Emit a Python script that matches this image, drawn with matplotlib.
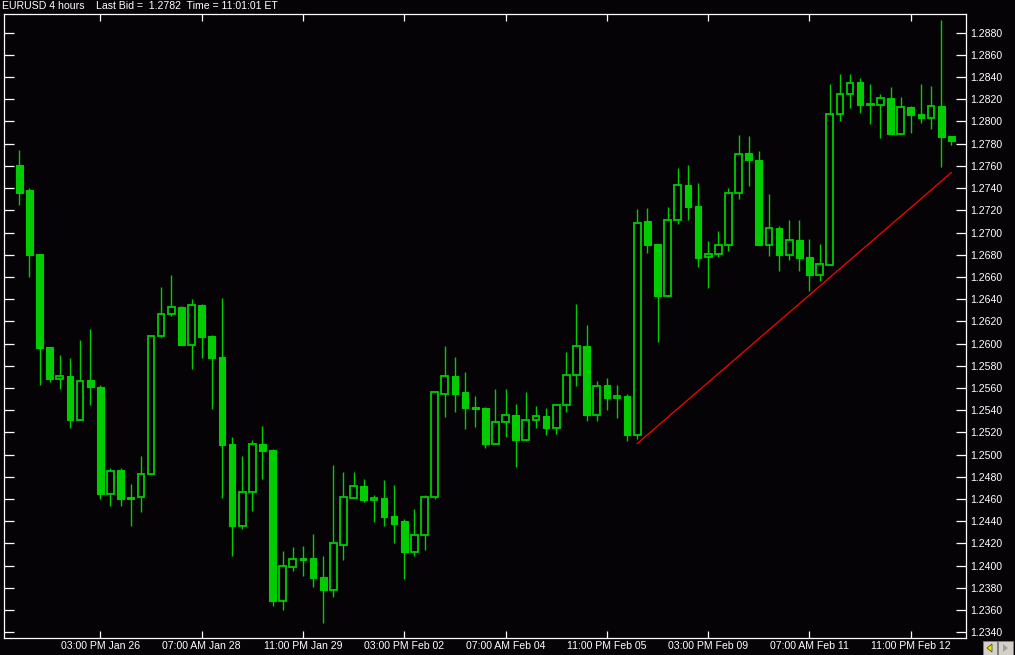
import matplotlib
matplotlib.use("Agg")
import matplotlib.pyplot as plt
from matplotlib.patches import Rectangle, Polygon
import numpy as np

# ---- data (EURUSD 4 hours) ----
opens = [1.2761, 1.2738, 1.2681, 1.2597, 1.2568, 1.2571, 1.2531, 1.2567, 1.2561, 1.2465,
         1.2486, 1.2462, 1.2462, 1.2483, 1.2607, 1.2627, 1.2633, 1.2599, 1.2635, 1.2607,
         1.2588, 1.2510, 1.2436, 1.2466, 1.2510, 1.2504, 1.2368, 1.2399, 1.2407, 1.2407,
         1.2390, 1.2378, 1.2419, 1.2461, 1.2472, 1.2459, 1.2461, 1.2445, 1.2440, 1.2412,
         1.2428, 1.2462, 1.2555, 1.2571, 1.2556, 1.2543, 1.2542, 1.2510, 1.2529, 1.2536,
         1.2513, 1.2531, 1.2535, 1.2524, 1.2545, 1.2572, 1.2598, 1.2536, 1.2563, 1.2551,
         1.2553, 1.2518, 1.2710, 1.2690, 1.2643, 1.2711, 1.2743, 1.2724, 1.2678, 1.2681,
         1.2689, 1.2736, 1.2772, 1.2765, 1.2689, 1.2704, 1.2680, 1.2693, 1.2678, 1.2662,
         1.2671, 1.2807, 1.2825, 1.2836, 1.2815, 1.2815, 1.2821, 1.2789, 1.2813, 1.2807,
         1.2803, 1.2814, 1.2787]
highs = [1.2774, 1.2740, 1.2681, 1.2597, 1.2590, 1.2587, 1.2603, 1.2613, 1.2563, 1.2488,
         1.2488, 1.2474, 1.2499, 1.2607, 1.2651, 1.2662, 1.2634, 1.2640, 1.2636, 1.2608,
         1.2641, 1.2516, 1.2499, 1.2513, 1.2526, 1.2505, 1.2413, 1.2417, 1.2418, 1.2429,
         1.2409, 1.2491, 1.2484, 1.2484, 1.2478, 1.2464, 1.2477, 1.2473, 1.2442, 1.2451,
         1.2464, 1.2557, 1.2598, 1.2588, 1.2574, 1.2553, 1.2543, 1.2559, 1.2559, 1.2546,
         1.2556, 1.2544, 1.2542, 1.2545, 1.2592, 1.2636, 1.2617, 1.2566, 1.2569, 1.2563,
         1.2555, 1.2721, 1.2722, 1.2690, 1.2723, 1.2758, 1.2761, 1.2745, 1.2692, 1.2701,
         1.2740, 1.2788, 1.2787, 1.2773, 1.2735, 1.2706, 1.2711, 1.2711, 1.2694, 1.2690,
         1.2834, 1.2843, 1.2843, 1.2839, 1.2834, 1.2825, 1.2831, 1.2822, 1.2814, 1.2834,
         1.2832, 1.2891, 1.2787]
lows = [1.2725, 1.2660, 1.2563, 1.2565, 1.2559, 1.2524, 1.2531, 1.2545, 1.2460, 1.2454,
        1.2454, 1.2436, 1.2448, 1.2483, 1.2606, 1.2625, 1.2599, 1.2577, 1.2587, 1.2541,
        1.2461, 1.2409, 1.2433, 1.2449, 1.2478, 1.2364, 1.2360, 1.2395, 1.2391, 1.2381,
        1.2348, 1.2372, 1.2405, 1.2461, 1.2457, 1.2439, 1.2436, 1.2420, 1.2388, 1.2409,
        1.2414, 1.2460, 1.2534, 1.2538, 1.2523, 1.2525, 1.2506, 1.2510, 1.2516, 1.2489,
        1.2512, 1.2524, 1.2518, 1.2519, 1.2538, 1.2562, 1.2530, 1.2530, 1.2540, 1.2533,
        1.2512, 1.2514, 1.2682, 1.2601, 1.2642, 1.2708, 1.2711, 1.2669, 1.2650, 1.2678,
        1.2683, 1.2730, 1.2742, 1.2689, 1.2679, 1.2665, 1.2675, 1.2665, 1.2647, 1.2656,
        1.2671, 1.2800, 1.2812, 1.2808, 1.2798, 1.2785, 1.2789, 1.2789, 1.2790, 1.2799,
        1.2793, 1.2759, 1.2779]
closes = [1.2736, 1.2680, 1.2596, 1.2568, 1.2571, 1.2531, 1.2566, 1.2561, 1.2465, 1.2485,
          1.2460, 1.2460, 1.2483, 1.2607, 1.2627, 1.2633, 1.2599, 1.2635, 1.2606, 1.2587,
          1.2509, 1.2436, 1.2466, 1.2510, 1.2503, 1.2368, 1.2400, 1.2406, 1.2405, 1.2389,
          1.2378, 1.2420, 1.2462, 1.2472, 1.2459, 1.2461, 1.2444, 1.2438, 1.2412, 1.2428,
          1.2462, 1.2556, 1.2571, 1.2555, 1.2542, 1.2541, 1.2510, 1.2529, 1.2536, 1.2513,
          1.2531, 1.2535, 1.2524, 1.2545, 1.2572, 1.2598, 1.2536, 1.2562, 1.2551, 1.2553,
          1.2518, 1.2709, 1.2689, 1.2643, 1.2711, 1.2743, 1.2723, 1.2677, 1.2681, 1.2689,
          1.2736, 1.2771, 1.2765, 1.2689, 1.2704, 1.2680, 1.2693, 1.2677, 1.2662, 1.2672,
          1.2807, 1.2825, 1.2835, 1.2815, 1.2816, 1.2821, 1.2789, 1.2813, 1.2806, 1.2803,
          1.2814, 1.2786, 1.2782]

# trendline (from candle index, price) to (candle index, price)
trend_idx = [61, 92]
trend_price = [1.2510, 1.2754]

tick_idx = [8, 18, 28, 38, 48, 58, 68, 78, 88]
tick_labels = ["03:00 PM Jan 26", "07:00 AM Jan 28", "11:00 PM Jan 29",
               "03:00 PM Feb 02", "07:00 AM Feb 04", "11:00 PM Feb 05",
               "03:00 PM Feb 09", "07:00 AM Feb 11", "11:00 PM Feb 12"]
price_ticks = [1.2340 + 0.0020 * k for k in range(28)]

title = "EURUSD 4 hours    Last Bid =  1.2782  Time = 11:01:01 ET"

# ---- style ----
GREEN = "#00CC00"
BG = "#050305"
FG = "#FFFFFF"
FONT = ["Liberation Sans", "DejaVu Sans"]

W, H = 1015, 655
fig = plt.figure(figsize=(W / 100, H / 100), dpi=100, facecolor=BG)
ax = fig.add_axes([4 / W, 1 - 638 / H, (966 - 4) / W, (638 - 14) / H])
ax.set_facecolor(BG)

n = len(opens)
x = np.arange(n)
o = np.array(opens); c = np.array(closes)
hi = np.array(highs); lo = np.array(lows)

ax.vlines(x, lo, hi, color=GREEN, linewidth=1.0, zorder=2)

bw = 0.66
minh = 0.00008
bull = c >= o
bottoms = np.minimum(o, c)
heights = np.maximum(np.abs(c - o), minh)
ax.bar(x[~bull], heights[~bull], bottom=bottoms[~bull], width=bw,
       color=GREEN, edgecolor=GREEN, linewidth=0.8, zorder=3)
ax.bar(x[bull], heights[bull], bottom=bottoms[bull], width=bw,
       color=BG, edgecolor=GREEN, linewidth=1.3, zorder=3)

ax.plot(trend_idx, trend_price, color="#FF0000", linewidth=0.9, zorder=4)

ax.set_xlim(-1.51, 93.45)
ax.set_ylim(1.23349, 1.28968)

ax.set_xticks(tick_idx)
ax.set_xticklabels(tick_labels, fontsize=7.6, color=FG, family=FONT)
ax.set_yticks(price_ticks)
ax.set_yticklabels([f"{v:.4f}" for v in price_ticks], fontsize=7.6, color=FG, family=FONT)

ax.tick_params(axis="y", direction="in", left=True, right=True, labelleft=False,
               labelright=True, length=7.5, width=0.9, color=FG, pad=3)
ax.tick_params(axis="x", direction="in", top=True, bottom=True, labeltop=False,
               labelbottom=True, length=5, width=0.9, color=FG, pad=2)
for s in ax.spines.values():
    s.set_color(FG)
    s.set_linewidth(0.9)

fig.text(2 / W, 1 - 6 / H, title, color=FG, fontsize=7.6, family=FONT,
         ha="left", va="center")

# scroll buttons bottom-right
bax = fig.add_axes([0, 0, 1, 1], facecolor="none")
bax.set_xlim(0, W); bax.set_ylim(H, 0); bax.axis("off")
bax.add_patch(Rectangle((983, 641), 14, 14, facecolor="#D4D0C8", edgecolor="#808080", lw=0.6))
bax.add_patch(Rectangle((998, 641), 15, 14, facecolor="#D4D0C8", edgecolor="#808080", lw=0.6))
bax.add_patch(Polygon([[987, 648], [992, 644], [992, 652]], closed=True, facecolor="#E8E800", edgecolor="#404000", lw=0.5))
bax.add_patch(Polygon([[1008, 648], [1003, 644], [1003, 652]], closed=True, facecolor="#A0A0A0", edgecolor="none"))

fig.savefig("out.png", dpi=100, facecolor=BG)
